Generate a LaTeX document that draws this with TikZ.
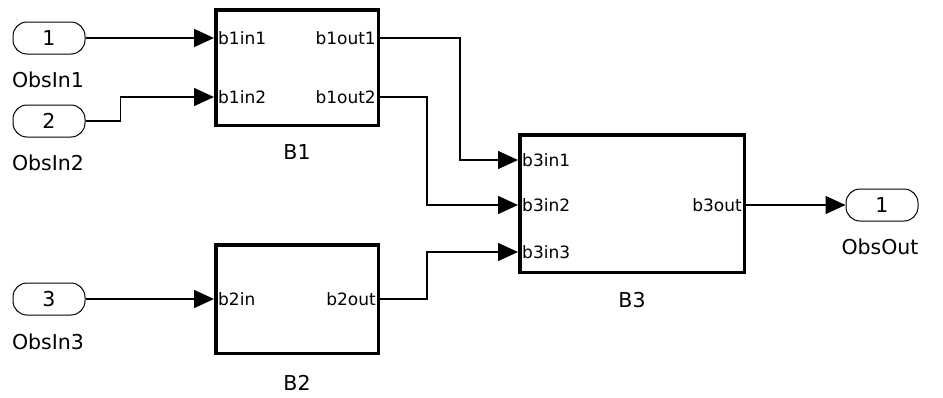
\documentclass[tikz,border=0pt]{standalone}
\usepackage{fontspec}
\setmainfont{DejaVu Sans}
\usetikzlibrary{arrows.meta}

\begin{document}
\begin{tikzpicture}[x=1pt, y=-1pt, every node/.style={font=\fontsize{20.5}{24}\selectfont},
  port/.style={draw, line width=1pt, rounded corners=14pt, minimum width=72pt, minimum height=32pt, inner sep=0pt},
  block/.style={draw, line width=3.5pt, inner sep=0pt},
  sig/.style={font=\fontsize{17}{20}\selectfont, inner xsep=4pt, inner ysep=0pt},
  wire/.style={line width=1.5pt, -{Triangle[length=20pt,width=18pt]}}]
\useasboundingbox (0,0) rectangle (943,397);
% ports
\node[port] (in1) at (49,38) {1};   \node (lin1) at (48,80) {ObsIn1};
\node[port] (in2) at (49,121) {2};  \node (lin2) at (48,163) {ObsIn2};
\node[port] (in3) at (49,299) {3};  \node (lin3) at (48,342) {ObsIn3};
\node[port] (out) at (882,205) {1}; \node (lout) at (880,247) {ObsOut};
% blocks
\node[block, minimum width=162.5pt, minimum height=115.5pt] (B1) at (297,67.5) {};  \node (lB1) at (297,152) {B1};
\node[block, minimum width=162.5pt, minimum height=108.5pt] (B2) at (297,299) {};   \node (lB2) at (297,383) {B2};
\node[block, minimum width=224.5pt, minimum height=137.5pt] (B3) at (632,203.5) {}; \node (lB3) at (632,300) {B3};
% signals
\node[sig, anchor=west] (b1in1) at (214,38) {b1in1};
\node[sig, anchor=west] (b1in2) at (214,97) {b1in2};
\node[sig, anchor=east] (b1out1) at (380,38) {b1out1};
\node[sig, anchor=east] (b1out2) at (380,97) {b1out2};
\node[sig, anchor=west] (b2in) at (214,299) {b2in};
\node[sig, anchor=east] (b2out) at (380,299) {b2out};
\node[sig, anchor=west] (b3in1) at (518,160) {b3in1};
\node[sig, anchor=west] (b3in2) at (518,205) {b3in2};
\node[sig, anchor=west] (b3in3) at (518,252) {b3in3};
\node[sig, anchor=east] (b3out) at (746,205) {b3out};
% wires
\draw[wire] (in1.east) -- (b1in1.west);
\draw[wire] (in2.east) -- ++(35,0) |- (b1in2.west);
\draw[wire] (in3.east) -- (b2in.west);
\draw[wire] (b1out1.east) -- ++(80,0) |- (b3in1.west);
\draw[wire] (b1out2.east) -- ++(47,0) |- (b3in2.west);
\draw[wire] (b2out.east) -- ++(47,0) |- (b3in3.west);
\draw[wire] (b3out.east) -- (out.west);
\end{tikzpicture}
\end{document}
